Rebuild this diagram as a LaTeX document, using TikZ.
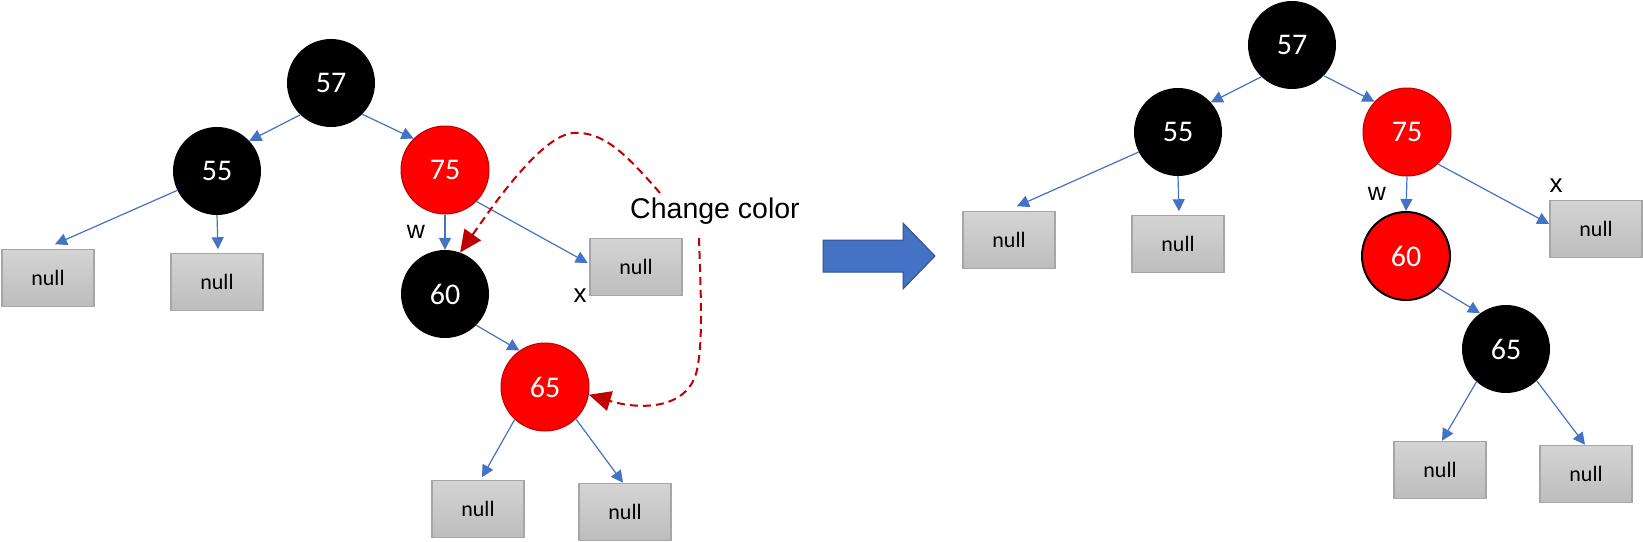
\documentclass[tikz,border=0pt]{standalone}
\usepackage{fontspec}
\setmainfont{Liberation Sans}
\newfontfamily\calib{Carlito}
\usetikzlibrary{arrows.meta}
\definecolor{rbred}{HTML}{FF0000}
\definecolor{rbredline}{HTML}{C00000}
\definecolor{edgeblue}{HTML}{4472C4}
\definecolor{bigarrowline}{HTML}{2F528F}
\definecolor{nulltop}{HTML}{D4D4D4}
\definecolor{nullbot}{HTML}{BDBDBD}
\definecolor{nullline}{HTML}{A6A6A6}

\tikzset{
  blacknode/.style={circle, fill=black, minimum size=88pt, inner sep=0pt,
    text=white, font=\calib\fontsize{30}{36}\selectfont},
  rednode/.style={blacknode, fill=rbred, draw=rbredline, line width=1pt},
  nullbox/.style={rectangle, top color=nulltop, bottom color=nullbot,
    draw=nullline, line width=1.5pt, minimum width=92pt, minimum height=57pt,
    inner sep=0pt, font=\calib\fontsize{22}{26}\selectfont},
  treeedge/.style={draw=edgeblue, line width=1.2pt,
    -{Triangle[length=12pt,width=12pt]}},
  recolor/.style={draw=rbredline, line width=2pt, dash pattern=on 8pt off 5pt,
    -{Triangle[length=22pt,width=20pt]}},
  letter/.style={anchor=base, font=\fontsize{25}{30}\selectfont}
}

\begin{document}
\begin{tikzpicture}[x=1pt, y=-1pt]
  \useasboundingbox (0,0) rectangle (1643,541);

  % before
  \node[blacknode] (l57) at (331,83) {57};
  \node[blacknode] (l55) at (217,171) {55};
  \node[rednode] (l75) at (445,170) {75};
  \node[blacknode] (l60) at (445,294) {60};
  \node[rednode] (l65) at (545,387) {65};
  \node[nullbox] (lnull1) at (48,278) {null};
  \node[nullbox] (lnull2) at (217,282) {null};
  \node[nullbox] (lnullx) at (636,267) {null};
  \node[nullbox] (lnull3) at (478,509) {null};
  \node[nullbox] (lnull4) at (625,512) {null};
  \node[letter] (lw) at (416,238) {w};
  \node[letter, font=\fontsize{26}{30}\selectfont] (lx) at (580,302) {x};

  \draw[treeedge] (l57.-134) -- (l55.43);
  \draw[treeedge] (l57.-45) -- (l75.135);
  \draw[treeedge] (l55.206) -- ([xshift=7pt,yshift=4.5pt]lnull1.north);
  \draw[treeedge] (l55.south) -- ([xshift=1pt,yshift=3.5pt]lnull2.north);
  \draw[treeedge] (l75.south) -- (l60.north);
  \draw[treeedge] (l75.-45) -- ([xshift=-1.5pt,yshift=4pt]lnullx.west);
  \draw[treeedge] (l60.-45) -- (l65.125);
  \draw[treeedge] (l65.227) -- ([xshift=4pt,yshift=2.5pt]lnull3.north);
  \draw[treeedge] (l65.314) -- ([xshift=-2pt]lnull4.north);

  \node[anchor=base, font=\fontsize{28.5}{33}\selectfont] (chg) at (715,218) {Change color};
  \coordinate (chg1) at (660,193);
  \coordinate (chg2) at (699,238);
  \draw[recolor] (chg1) .. controls (625,153) and (603,131) .. (573,133)
    .. controls (540,136) and (490,210) .. (l60.70);
  \draw[recolor] (chg2) .. controls (701,300) and (703,340) .. (697,370)
    .. controls (688,410) and (640,410) .. (l65.-10);

  % arrow
  \draw[fill=edgeblue, draw=bigarrowline, line width=1pt]
    (823,240) -- (903,240) -- (903,223) -- (935,256) -- (903,289)
    -- (903,272) -- (823,272) -- cycle;

  % after
  \node[blacknode] (r57) at (1292,45) {57};
  \node[blacknode] (r55) at (1178,132) {55};
  \node[rednode] (r75) at (1407,132) {75};
  \node[rednode, draw=black, line width=2pt] (r60) at (1406,256) {60};
  \node[blacknode] (r65) at (1506,349) {65};
  \node[nullbox] (rnull1) at (1009,240) {null};
  \node[nullbox] (rnull2) at (1178,244) {null};
  \node[nullbox] (rnullx) at (1596,229) {null};
  \node[nullbox] (rnull3) at (1440,470) {null};
  \node[nullbox] (rnull4) at (1586,474) {null};
  \node[letter] (rw) at (1377,200) {w};
  \node[letter, font=\fontsize{26}{30}\selectfont] (rx) at (1556,192) {x};

  \draw[treeedge] (r57.226) -- (r55.42);
  \draw[treeedge] (r57.-44) -- (r75.137);
  \draw[treeedge] (r55.207) -- ([xshift=8pt,yshift=4.5pt]rnull1.north);
  \draw[treeedge] (r55.south) -- ([xshift=1pt,yshift=3.5pt]rnull2.north);
  \draw[treeedge] (r75.south) -- (r60.north);
  \draw[treeedge] (r75.-46) -- ([yshift=5pt]rnullx.west);
  \draw[treeedge] (r60.-45) -- (r65.126);
  \draw[treeedge] (r65.228) -- ([xshift=2pt]rnull3.north);
  \draw[treeedge] (r65.314) -- ([xshift=-1pt]rnull4.north);
\end{tikzpicture}
\end{document}
